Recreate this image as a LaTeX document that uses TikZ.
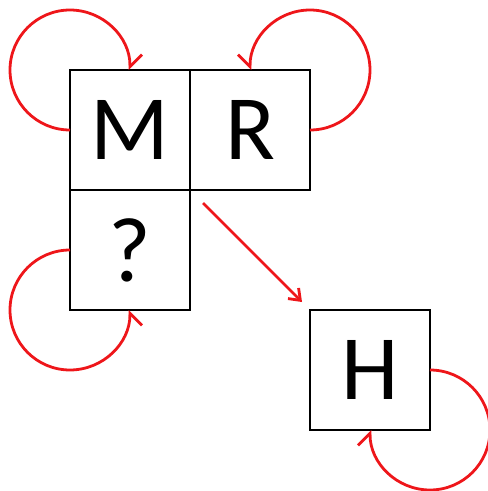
\documentclass[tikz,border=0pt]{standalone}
\definecolor{loopred}{RGB}{238, 22, 26}
\usepackage{fontspec}
\setmainfont{Carlito}
\usepackage{tikz}
\usetikzlibrary{arrows.meta, positioning}

\begin{document}
\begin{tikzpicture}[x=1pt, y=1pt,
    cell/.style={draw=black, line width=2pt, minimum size=120pt, inner sep=0pt, outer sep=0pt,
      font=\fontsize{92}{96}\selectfont},
    redarrow/.style={draw=loopred, line width=2.8pt, -{Straight Barb[length=10pt, width=15pt]}},
    selfloop/.style={draw=loopred, line width=2.8pt, -{Straight Barb[length=12pt, width=24pt, harpoon, #1]}},
    selfloop/.default={}]
  \useasboundingbox (0,0) rectangle (488,-491);

  % the three joined cells and the lone one
  \node[cell] (M) at (130,-130) {M};
  \node[cell, right=0pt of M] (R) {R};
  \node[cell, below=0pt of M] (Q) {?};
  \node[cell] (H) at (370,-370) {H};

  % self loops, barb on the outer side
  \draw[selfloop] (M.west) arc[start angle=270, end angle=0, radius=60];
  \draw[selfloop=swap] (R.east) arc[start angle=-90, end angle=180, radius=60];
  \draw[selfloop=swap] (Q.west) arc[start angle=90, end angle=360, radius=60];
  \draw[selfloop] (H.east) arc[start angle=90, end angle=-180, radius=60];

  % move to H
  \draw[redarrow] ([shift={(13,-13)}]M.south east) -- ([shift={(-8,8)}]H.north west);
\end{tikzpicture}
\end{document}
